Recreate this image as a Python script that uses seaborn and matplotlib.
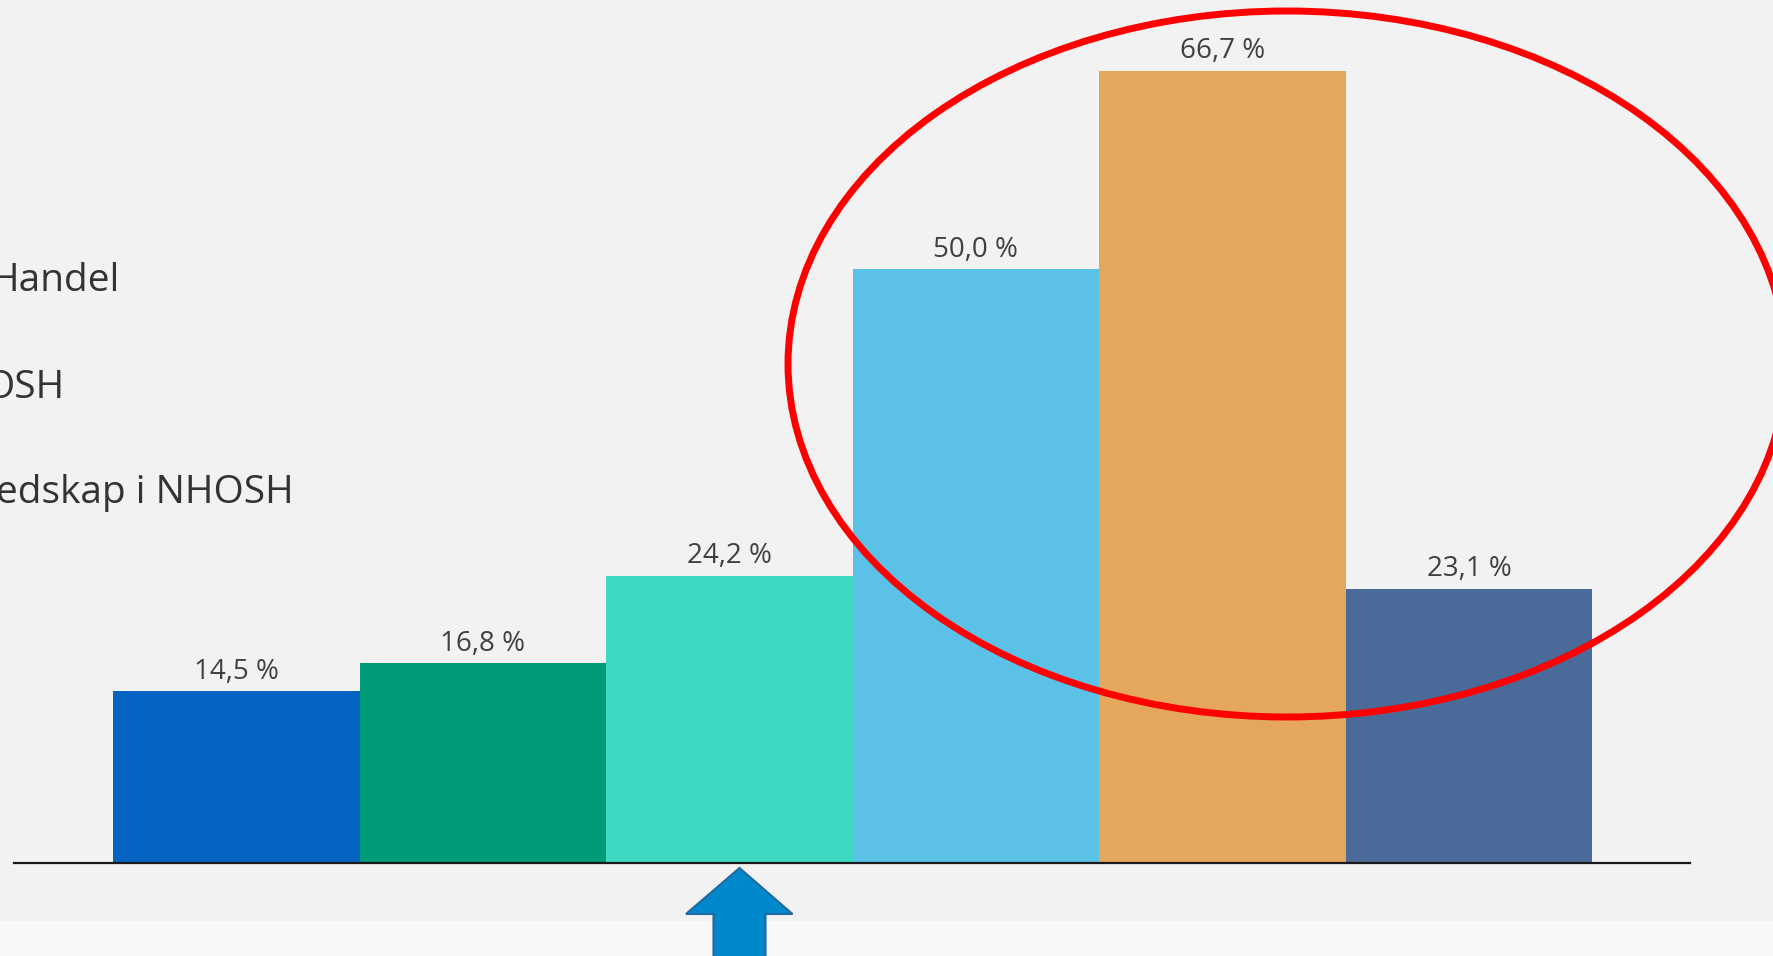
import matplotlib
matplotlib.use("Agg")
import matplotlib.pyplot as plt
import seaborn as sns
import pandas as pd
from matplotlib.patches import Ellipse, Polygon, Rectangle

# ---- data ----
categories = ["Kategori 1", "Kategori 2", "Kategori 3", "Kategori 4", "Kategori 5", "Kategori 6"]
values = [14.5, 16.8, 24.2, 50.0, 66.7, 23.1]
bar_colors = ["#0563C1", "#009B77", "#3ED9C3", "#5BC1E6", "#E5A65D", "#4A6B9A"]
legend_labels = ["Handel", "OSH", "edskap i NHOSH"]  # visible (cropped) legend texts

W, H = 1773, 956
sns.set_theme(style="white")
plt.rcParams["font.family"] = ["Open Sans", "DejaVu Sans"]

fig = plt.figure(figsize=(W / 100, H / 100), dpi=100, facecolor="#F2F2F2")
# lighter bottom band
fig.patches.append(Rectangle((0, 0), 1, (H - 921) / H, transform=fig.transFigure,
                             facecolor="#F8F8F8", edgecolor="none", zorder=0))

base_px = 863
left_px, right_px = 13.6, 1690
ax = fig.add_axes([left_px / W, (H - base_px) / H, (right_px - left_px) / W, base_px / H])
ax.set_facecolor("none")

df = pd.DataFrame({"cat": categories, "val": values})
sns.barplot(data=df, x="cat", y="val", hue="cat", palette=bar_colors, width=1.0,
            dodge=False, legend=False, ax=ax, saturation=1.0, linewidth=0,
            edgecolor="none")

ax.set_xlim(-0.9034, 5.897)
ax.set_ylim(0, base_px / 11.88)
for s in ["top", "right", "left"]:
    ax.spines[s].set_visible(False)
ax.spines["bottom"].set_color("#1a1a1a")
ax.spines["bottom"].set_linewidth(1.6)
ax.spines["bottom"].set_zorder(5)
ax.set_xticks([])
ax.set_yticks([])
ax.set_xlabel("")
ax.set_ylabel("")

for i, v in enumerate(values):
    ax.annotate(f"{v:.1f}".replace(".", ",") + " %", xy=(i, v), xytext=(0, 8.8),
                textcoords="offset points", ha="center", va="baseline",
                fontsize=20, color="#404040")

# overlay in pixel coordinates
ov = fig.add_axes([0, 0, 1, 1], zorder=10)
ov.set_xlim(0, W)
ov.set_ylim(H, 0)
ov.axis("off")
ov.patch.set_alpha(0)

# partially visible legend texts (cropped at the left edge)
legend_pos = [(120, 281), (64.5, 388), (294, 493)]
for (x, y), lab in zip(legend_pos, legend_labels):
    ov.text(x, y, lab, ha="right", va="center", fontsize=28, color="#333333")

# red ellipse
ov.add_patch(Ellipse((1287, 364), 998, 706, facecolor="none", edgecolor="#FF0000", linewidth=5.0))

# blue arrow
arrow_pts = [(739.5, 868), (792.5, 914), (765.5, 914), (765.5, 962),
             (713.5, 962), (713.5, 914), (686, 914)]
ov.add_patch(Polygon(arrow_pts, closed=True, facecolor="#0088CC", edgecolor="#1F6AA0", linewidth=1.5))

fig.savefig("out.png", dpi=100, facecolor=fig.get_facecolor())
